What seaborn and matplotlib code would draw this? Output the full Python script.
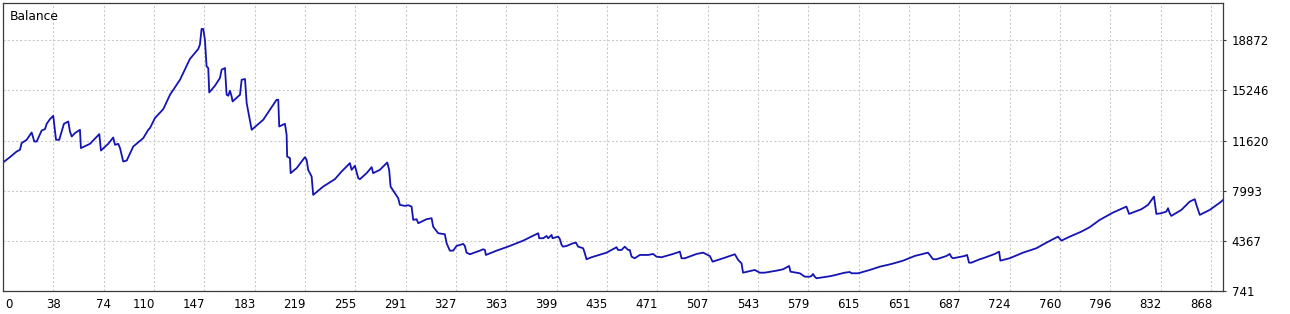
import matplotlib
matplotlib.use("Agg")
import matplotlib.pyplot as plt
import pandas as pd
import seaborn as sns
from matplotlib.transforms import ScaledTranslation

# ---- data ----
trade_no = [
    0, 5.0, 9.8, 12.2, 13.4, 17.0, 20.6, 22.5, 24.2, 27.8, 30.2, 31.4, 33.8, 36.1, 38.1, 40.4,
    43.8, 46.9, 48.1, 49.4, 51.7, 55.3, 56.0, 62.5, 69.2, 70.4, 75.6, 79.2, 80.5, 82.8, 84.1,
    86.4, 88.9, 93.6, 100.8, 104.4,
    105.6, 109.2, 115.2, 120.0, 127.2, 134.3, 140.3, 141.5, 142.7, 143.9, 145.1, 146.3, 147.5,
    148.2, 152.3, 155.9, 157.1, 159.5, 160.7, 161.9, 163.1, 164.3, 165.0, 169.0, 170.3, 171.5,
    173.9, 175.1, 177.4, 178.7, 187.0, 196.6, 197.8, 198.5, 202.6, 203.8, 204.2, 206.2, 206.7,
    211.0, 217.0, 218.2,
    219.3, 221.8, 222.9, 230.1, 238.5, 243.3, 249.3, 250.5, 252.9, 255.3, 256.5, 261.3, 264.9,
    266.0, 270.8, 276.1, 277.5, 278.5, 281.6, 284.0, 285.2, 288.8, 291.2, 293.6, 294.8, 297.2,
    298.4, 304.4, 308.0, 309.1, 312.7, 317.5, 318.8, 321.1, 323.5, 325.9, 330.7, 331.9, 333.1,
    335.5,
    342.7, 345.0, 346.3, 347.0, 354.7, 364.2, 373.8, 382.2, 384.6, 385.3, 388.2, 390.6, 391.8,
    394.2, 394.9, 399.0, 400.2, 401.4, 402.5, 405.0, 409.7, 411.7, 413.3, 416.9, 418.1, 419.3,
    422.9, 433.7, 440.9, 442.0, 444.5, 446.8, 449.2, 450.4, 451.7, 454.0,
    457.6, 463.6, 467.2, 469.6, 473.2, 481.5, 486.4, 487.6, 490.0, 498.4, 503.1, 507.9, 509.9,
    517.5, 525.9, 528.3, 530.7, 531.8, 540.2, 543.8, 547.4, 555.8, 560.6, 564.9, 565.9, 570.2,
    572.6, 576.2, 579.8,
    581.0, 582.1, 583.3, 584.6, 595.3, 604.9, 608.5, 609.7, 614.5, 622.9, 630.1, 638.5, 646.8,
    655.2, 664.7, 666.0, 668.4, 670.8, 678.0, 680.3, 681.6, 682.7, 691.1, 692.8, 694.2, 695.9,
    701.9,
    704.3, 712.7, 715.8, 716.7, 723.4, 733.0, 742.6, 749.8, 755.8, 758.1, 760.6, 766.6, 774.9,
    780.9, 788.1,
    797.6, 807.3, 809.2, 818.1, 822.8, 827.1, 828.8, 832.4, 836.0, 837.2, 838.4, 839.6, 846.8,
    852.8, 856.4, 857.6, 860.0, 867.2, 875.5, 876.7,
]

balance = [
    10028, 10418, 10824, 10947, 11432, 11670, 12199, 11547, 11547, 12344, 12445, 12828, 13169,
    13408, 11670, 11670, 12828, 12995, 12271, 11909, 12155, 12394, 11070, 11381, 12083, 10896,
    11381, 11837, 11308, 11381, 11070, 10100, 10172, 11185, 11794, 12394,
    12517, 13241, 13892, 14927, 16013, 17511, 18235, 18546, 19683, 19683, 18908, 16976, 16860,
    15094, 15579, 16136, 16737, 16860, 14927, 14855, 15217, 14804, 14443, 14804, 14927, 16013,
    16064, 14327, 13118, 12394, 13118, 14566, 14566, 12633, 12828, 12032, 10462, 10346, 9260,
    9622, 10418, 10223,
    9499, 9014, 7689, 8290, 8826, 9376, 9984, 9499, 9789, 8898, 8826, 9260, 9694, 9260, 9499,
    10028, 9499, 8290, 7813, 7451, 6966, 6893, 6944, 6843, 5880, 5931, 5641, 5931, 6003, 5395,
    4917, 4845, 4194, 3658, 3658, 3998, 4143, 3998, 3513, 3397,
    3658, 3759, 3708, 3347, 3658, 3998, 4382, 4794, 4917, 4555, 4555, 4722, 4555, 4794, 4555,
    4671, 4483, 4070, 3947, 3998, 4194, 4237, 3947, 3832, 3470, 3035, 3180, 3513, 3904, 3708,
    3708, 3947, 3708, 3708, 3224, 3108,
    3347, 3347, 3419, 3224, 3180, 3419, 3586, 3108, 3108, 3419, 3513, 3274, 2862, 3108, 3397,
    2985, 2746, 2066, 2261, 2066, 2066, 2210, 2312, 2551, 2138, 2066, 2022, 1776, 1776,
    1827, 1971, 1776, 1660, 1827, 2066, 2116, 2022, 2022, 2261, 2500, 2695, 2934, 3274, 3513,
    3347, 3035, 3035, 3274, 3419, 3180, 3108, 3274, 3347, 2789, 2789, 3035,
    3108, 3419, 3586, 2934, 3108, 3513, 3832, 4237, 4555, 4671, 4382, 4671, 5033, 5352, 5880,
    6408, 6843, 6314, 6654, 6966, 7566, 6314, 6365, 6481, 6727, 6365, 6170, 6604, 7205, 7378,
    6966, 6242, 6604, 7205, 7328,
]

x_tick_labels = ["0", "38", "74", "110", "147", "183", "219", "255", "291", "327", "363",
                 "399", "435", "471", "507", "543", "579", "615", "651", "687", "724",
                 "760", "796", "832", "868"]
y_ticks = [741, 4367, 7993, 11620, 15246, 18872]
title_text = "Balance"

# ---- drawing ----
sns.set_style("white")
plt.rcParams["font.family"] = ["DejaVu Sans"]

W, H = 1290, 314
fig = plt.figure(figsize=(W / 100, H / 100), dpi=100)
fig.patch.set_facecolor("white")
ax = fig.add_axes([3 / W, 23 / H, 1220 / W, 288 / H])
ax.set_facecolor("white")

df = pd.DataFrame({"trade": trade_no, "balance": balance})
sns.lineplot(data=df, x="trade", y="balance", ax=ax, color="#1414b4",
             linewidth=1.3, estimator=None, sort=False)

x_step = 36.17
ax.set_xlim(0, 876.7)
ax.set_ylim(741, 21560)
ax.set_xticks([k * x_step for k in range(len(x_tick_labels))])
ax.set_xticklabels(x_tick_labels)
ax.set_yticks(y_ticks)
ax.set_yticklabels([str(v) for v in y_ticks])
ax.yaxis.tick_right()
ax.set_xlabel("")
ax.set_ylabel("")

ax.set_axisbelow(True)
ax.grid(True, color="#c8c8c8", linestyle=(0, (2, 2)), linewidth=0.75)

for s in ax.spines.values():
    s.set_visible(True)
    s.set_color("#3a3a3a")
    s.set_linewidth(0.9)

ax.tick_params(axis="both", direction="out", length=2.2, width=0.8, color="#3a3a3a",
               labelsize=8.5, labelcolor="black")
ax.tick_params(axis="x", pad=2.5)
ax.tick_params(axis="y", pad=4)

for lab, txt in zip(ax.get_xticklabels(), x_tick_labels):
    n = len(txt)
    if n >= 3:
        lab.set_horizontalalignment("right")
        dx = 1
    elif n == 2:
        lab.set_horizontalalignment("center")
        dx = 0
    else:
        lab.set_horizontalalignment("left")
        dx = 2
    lab.set_transform(lab.get_transform() + ScaledTranslation(dx / 100, 0, fig.dpi_scale_trans))

fig.text(10 / W, 1 - 17 / H, title_text, ha="left", va="center", fontsize=8.8, color="black")

fig.savefig("out.png", dpi=100, facecolor="white")
